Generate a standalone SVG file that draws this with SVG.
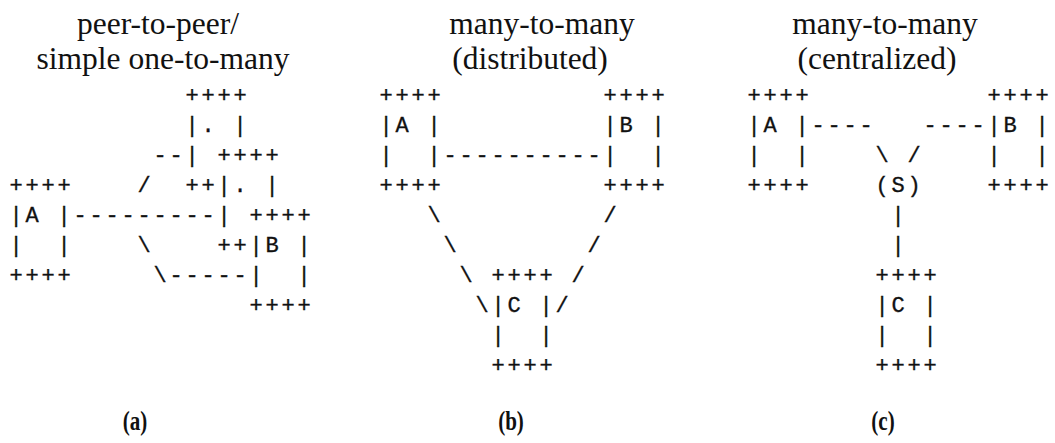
<svg xmlns="http://www.w3.org/2000/svg" width="1055" height="443" viewBox="0 0 1055 443">
<style>
.m{font-family:"Liberation Mono","Courier New",monospace;font-size:22px;letter-spacing:2.8px;fill:#111;stroke:#111;stroke-width:0.35px;white-space:pre}
.t{font-family:"Liberation Serif","Times New Roman",serif;font-size:31.5px;fill:#111;text-anchor:middle}
.l{font-family:"Liberation Serif","Times New Roman",serif;font-size:27px;font-weight:bold;fill:#111;text-anchor:middle}
</style>
<rect width="1055" height="443" fill="#fff"/>

<!-- Panel (a) -->
<g id="a-title">
<text class="t" x="158" y="34">peer-to-peer/</text>
<text class="t" x="163" y="69">simple one-to-many</text>
</g>
<g id="a-A" xml:space="preserve">
<text class="m" x="9.4" y="192">++++</text>
<text class="m" x="9.4" y="222">|A |</text>
<text class="m" x="9.4" y="252">|  |</text>
<text class="m" x="9.4" y="282">++++</text>
</g>
<g id="a-R1" xml:space="preserve">
<text class="m" x="185.4" y="102">++++</text>
<text class="m" x="185.4" y="132">|. |</text>
<text class="m" x="185.4" y="162">|</text>
<text class="m" x="185.4" y="192">++</text>
</g>
<g id="a-R2" xml:space="preserve">
<text class="m" x="217.4" y="162">++++</text>
<text class="m" x="217.4" y="192">|. |</text>
<text class="m" x="217.4" y="222">|</text>
<text class="m" x="217.4" y="252">++</text>
</g>
<g id="a-B" xml:space="preserve">
<text class="m" x="249.4" y="222">++++</text>
<text class="m" x="249.4" y="252">|B |</text>
<text class="m" x="249.4" y="282">|  |</text>
<text class="m" x="249.4" y="312">++++</text>
</g>
<g id="a-connectors" xml:space="preserve">
<text class="m" x="153.4" y="162">--</text>
<text class="m" x="137.4" y="192">/</text>
<text class="m" x="73.4" y="222">---------</text>
<text class="m" x="137.4" y="252">\</text>
<text class="m" x="153.4" y="282">\-----</text>
</g>

<!-- Panel (b) -->
<g id="b-title">
<text class="t" x="542" y="34">many-to-many</text>
<text class="t" x="530" y="69">(distributed)</text>
</g>
<g id="b-A" xml:space="preserve">
<text class="m" x="379.4" y="102">++++</text>
<text class="m" x="379.4" y="132">|A |</text>
<text class="m" x="379.4" y="162">|  |</text>
<text class="m" x="379.4" y="192">++++</text>
</g>
<g id="b-B" xml:space="preserve">
<text class="m" x="603.4" y="102">++++</text>
<text class="m" x="603.4" y="132">|B |</text>
<text class="m" x="603.4" y="162">|  |</text>
<text class="m" x="603.4" y="192">++++</text>
</g>
<g id="b-C" xml:space="preserve">
<text class="m" x="491.4" y="282">++++</text>
<text class="m" x="491.4" y="312">|C |</text>
<text class="m" x="491.4" y="342">|  |</text>
<text class="m" x="491.4" y="372">++++</text>
</g>
<g id="b-connectors" xml:space="preserve">
<text class="m" x="443.4" y="162">----------</text>
<text class="m" x="427.4" y="222">\</text>
<text class="m" x="603.4" y="222">/</text>
<text class="m" x="443.4" y="252">\</text>
<text class="m" x="587.4" y="252">/</text>
<text class="m" x="459.4" y="282">\</text>
<text class="m" x="571.4" y="282">/</text>
<text class="m" x="475.4" y="312">\</text>
<text class="m" x="555.4" y="312">/</text>
</g>

<!-- Panel (c) -->
<g id="c-title">
<text class="t" x="885" y="34">many-to-many</text>
<text class="t" x="877" y="69">(centralized)</text>
</g>
<g id="c-A" xml:space="preserve">
<text class="m" x="747.4" y="102">++++</text>
<text class="m" x="747.4" y="132">|A |</text>
<text class="m" x="747.4" y="162">|  |</text>
<text class="m" x="747.4" y="192">++++</text>
</g>
<g id="c-B" xml:space="preserve">
<text class="m" x="987.4" y="102">++++</text>
<text class="m" x="987.4" y="132">|B |</text>
<text class="m" x="987.4" y="162">|  |</text>
<text class="m" x="987.4" y="192">++++</text>
</g>
<g id="c-S" xml:space="preserve">
<text class="m" x="875.4" y="192">(S)</text>
</g>
<g id="c-C" xml:space="preserve">
<text class="m" x="875.4" y="282">++++</text>
<text class="m" x="875.4" y="312">|C |</text>
<text class="m" x="875.4" y="342">|  |</text>
<text class="m" x="875.4" y="372">++++</text>
</g>
<g id="c-connectors" xml:space="preserve">
<text class="m" x="811.4" y="132">----</text>
<text class="m" x="923.4" y="132">----</text>
<text class="m" x="875.4" y="162">\</text>
<text class="m" x="907.4" y="162">/</text>
<text class="m" x="891.4" y="222">|</text>
<text class="m" x="891.4" y="252">|</text>
</g>

<g id="labels">
<text class="l" transform="translate(135 430) scale(0.78 1)">(a)</text>
<text class="l" transform="translate(511 430) scale(0.78 1)">(b)</text>
<text class="l" transform="translate(883 430) scale(0.78 1)">(c)</text>
</g>
</svg>
